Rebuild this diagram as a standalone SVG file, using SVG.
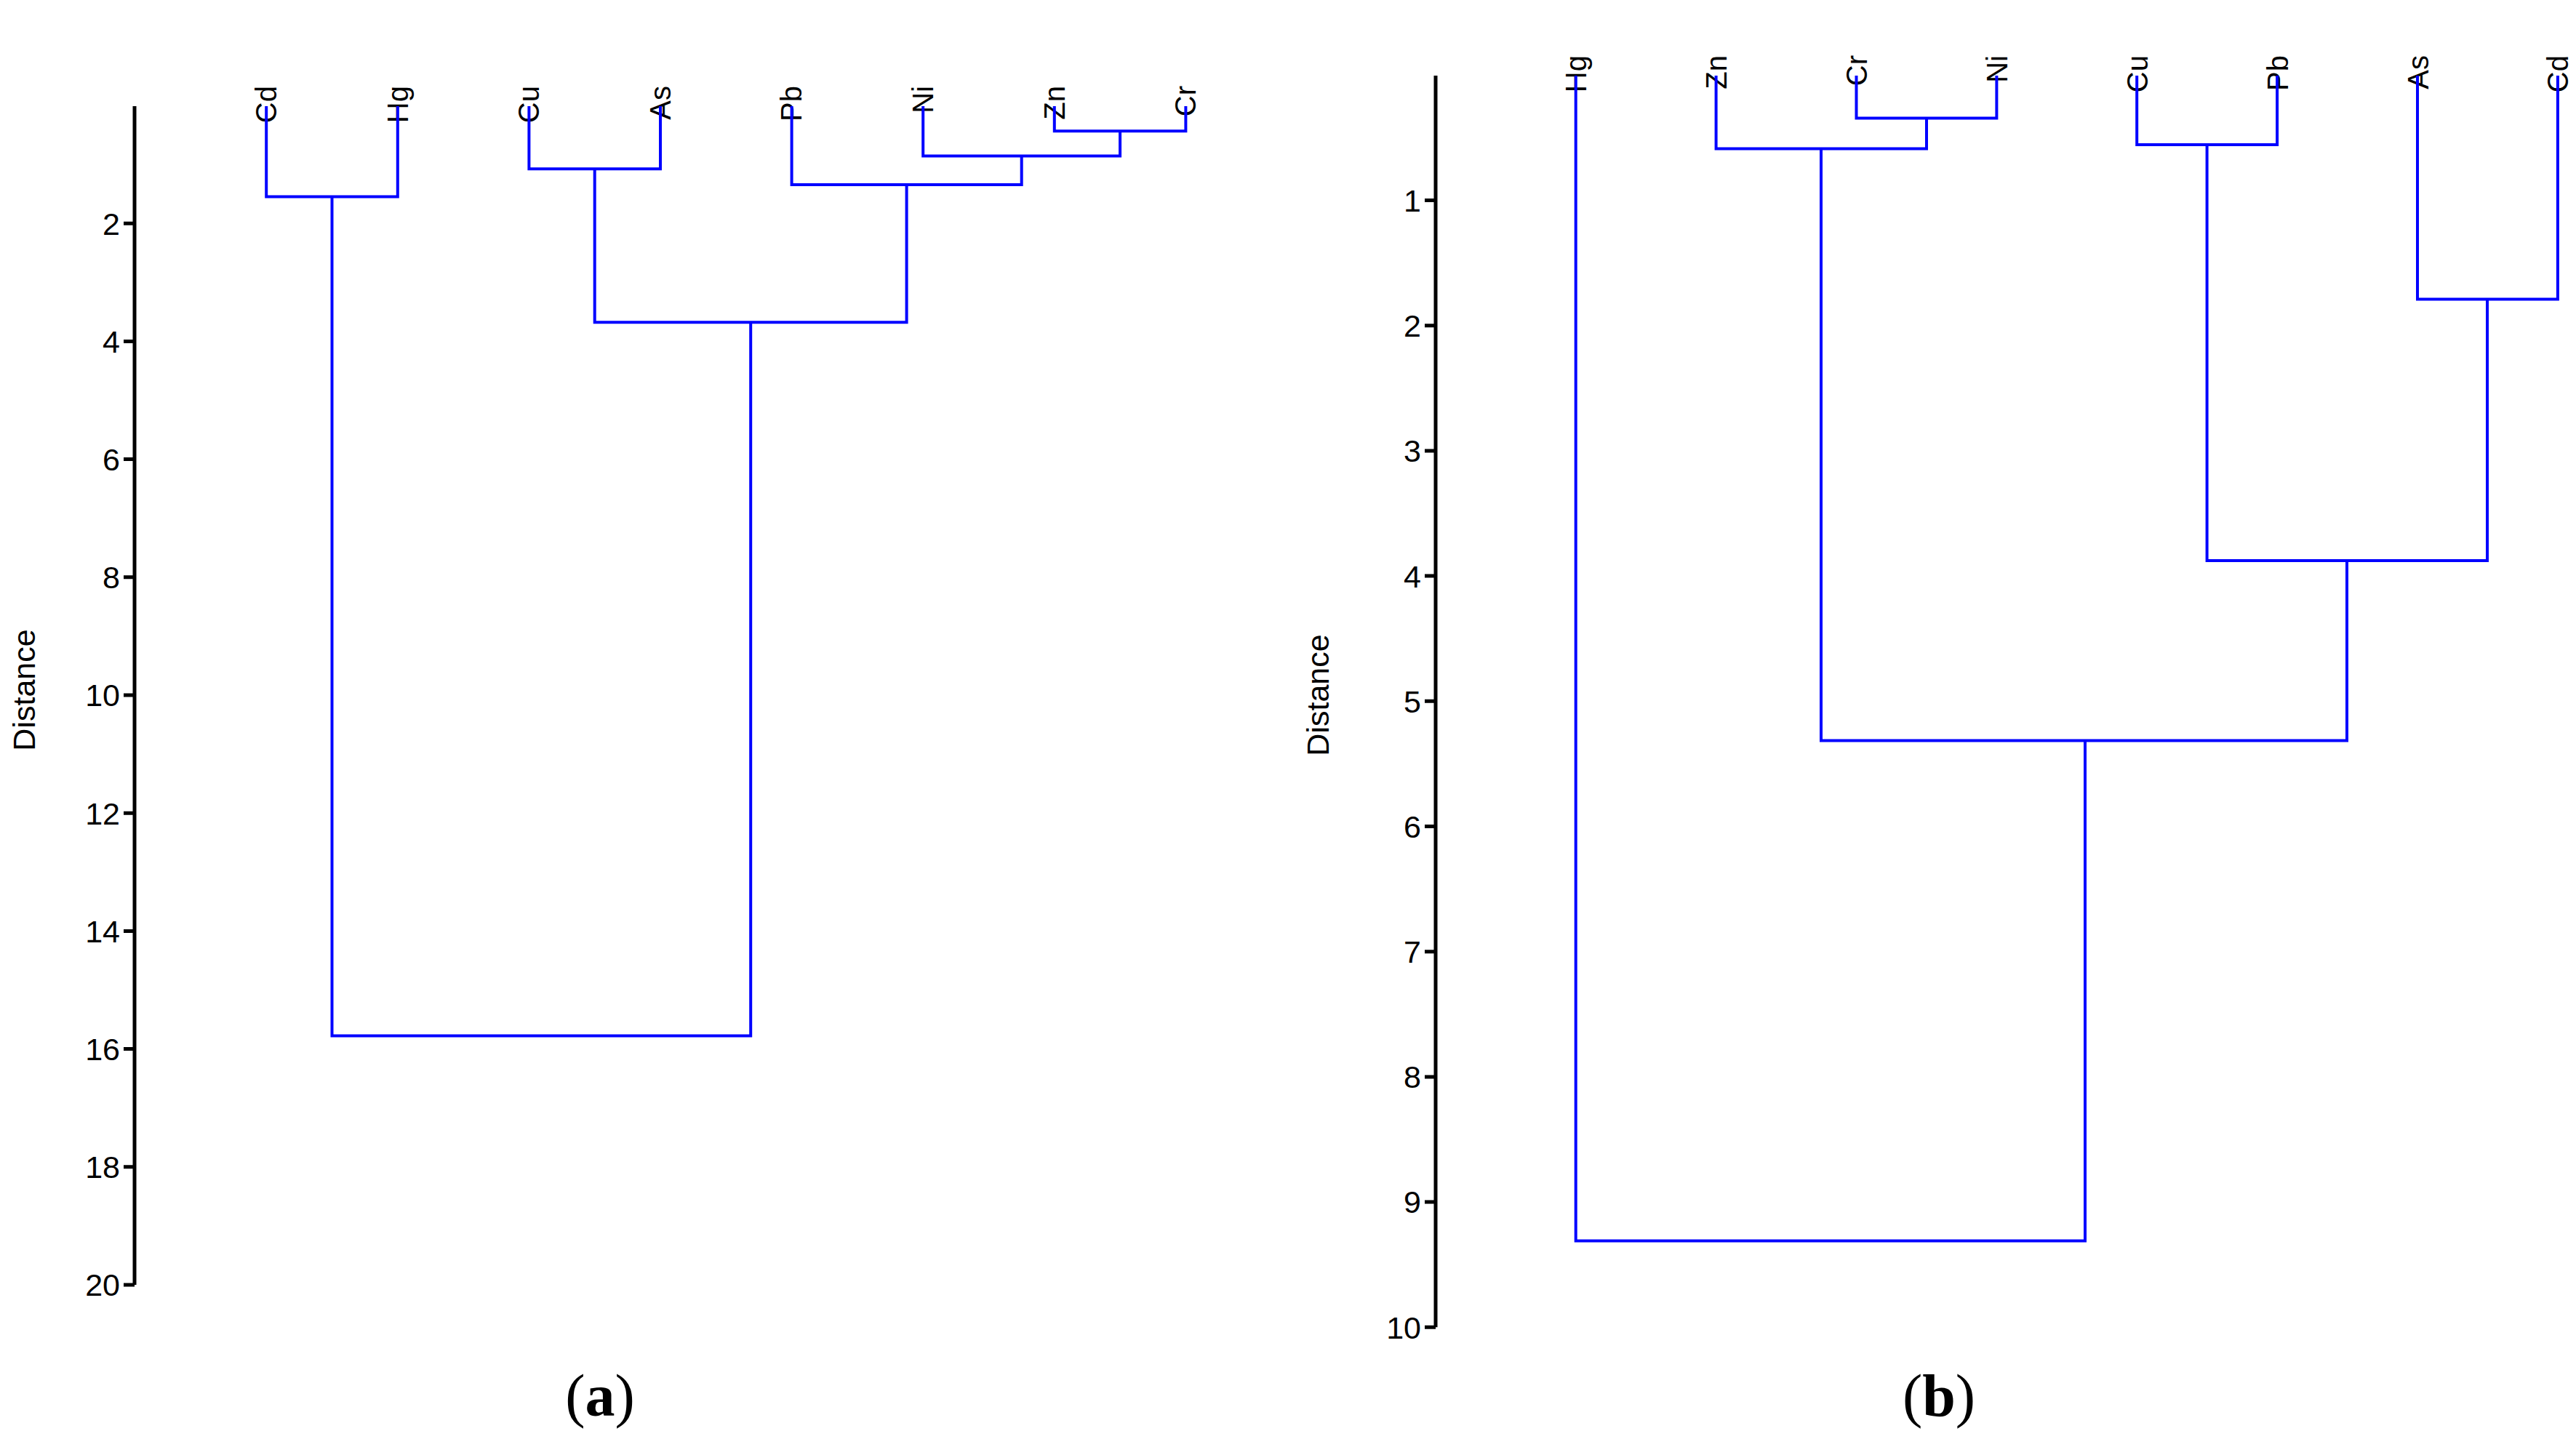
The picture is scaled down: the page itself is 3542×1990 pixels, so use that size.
<svg xmlns="http://www.w3.org/2000/svg" width="3542" height="1990" viewBox="0 0 3542 1990">
<style>
.d{fill:none;stroke:#0000ff;stroke-width:4}
.ax{fill:none;stroke:#000;stroke-width:5}
.t{font-family:"Liberation Sans",Arial,sans-serif;font-size:43px;fill:#000}
.lf{font-family:"Liberation Sans",Arial,sans-serif;font-size:40px;fill:#000}
.cap{font-family:"Liberation Serif","Times New Roman",serif;font-size:82px;fill:#000}
</style>
<rect width="3542" height="1990" fill="#fff"/>
<g id="axis-a">
<path class="ax" d="M185 146V1767M170 307.2H185M170 469.4H185M170 631.6H185M170 793.8H185M170 956H185M170 1118.2H185M170 1280.4H185M170 1442.6H185M170 1604.8H185M170 1767H185"/>
<g class="t" text-anchor="end">
<text x="165" y="323">2</text><text x="165" y="485">4</text><text x="165" y="647">6</text><text x="165" y="809">8</text><text x="165" y="971">10</text><text x="165" y="1134">12</text><text x="165" y="1296">14</text><text x="165" y="1458">16</text><text x="165" y="1620">18</text><text x="165" y="1782">20</text>
</g>
<text class="t" transform="translate(48 949) rotate(-90)" text-anchor="middle">Distance</text>
</g>
<g id="leaves-a" class="lf" text-anchor="end">
<text transform="translate(380 118) rotate(-90)">Cd</text>
<text transform="translate(561 118) rotate(-90)">Hg</text>
<text transform="translate(741 118) rotate(-90)">Cu</text>
<text transform="translate(922 118) rotate(-90)">As</text>
<text transform="translate(1102 118) rotate(-90)">Pb</text>
<text transform="translate(1283 118) rotate(-90)">Ni</text>
<text transform="translate(1464 118) rotate(-90)">Zn</text>
<text transform="translate(1644 118) rotate(-90)">Cr</text>
</g>
<g id="tree-a">
<path class="d" d="M1449.8 146V180.3H1630.4V146"/>
<path class="d" d="M1269.2 146V214.6H1540.1V180.3"/>
<path class="d" d="M1088.6 146V253.9H1404.7V214.6"/>
<path class="d" d="M727.4 146V232.3H908V146"/>
<path class="d" d="M366.2 146V270.4H546.8V146"/>
<path class="d" d="M817.7 232.3V443.2H1246.6V253.9"/>
<path class="d" d="M456.5 270.4V1424.5H1032.2V443.2"/>
</g>
<text class="cap" x="825" y="1947" text-anchor="middle">(<tspan font-weight="bold">a</tspan>)</text>
<g id="axis-b">
<path class="ax" d="M1974 104V1825.3M1959 275.5H1974M1959 447.7H1974M1959 619.9H1974M1959 792.1H1974M1959 964.3H1974M1959 1136.5H1974M1959 1308.7H1974M1959 1480.9H1974M1959 1653.1H1974M1959 1825.3H1974"/>
<g class="t" text-anchor="end">
<text x="1954" y="291">1</text><text x="1954" y="463">2</text><text x="1954" y="635">3</text><text x="1954" y="808">4</text><text x="1954" y="980">5</text><text x="1954" y="1152">6</text><text x="1954" y="1324">7</text><text x="1954" y="1496">8</text><text x="1954" y="1668">9</text><text x="1954" y="1841">10</text>
</g>
<text class="t" transform="translate(1827 956) rotate(-90)" text-anchor="middle">Distance</text>
</g>
<g id="leaves-b" class="lf" text-anchor="end">
<text transform="translate(2181 76) rotate(-90)">Hg</text>
<text transform="translate(2374 76) rotate(-90)">Zn</text>
<text transform="translate(2567 76) rotate(-90)">Cr</text>
<text transform="translate(2760 76) rotate(-90)">Ni</text>
<text transform="translate(2953 76) rotate(-90)">Cu</text>
<text transform="translate(3146 76) rotate(-90)">Pb</text>
<text transform="translate(3339 76) rotate(-90)">As</text>
<text transform="translate(3531 76) rotate(-90)">Cd</text>
</g>
<g id="tree-b">
<path class="d" d="M2552.5 104V162.6H2745.4V104"/>
<path class="d" d="M2359.6 104V204.6H2649V162.6"/>
<path class="d" d="M2938.2 104V199.1H3131.1V104"/>
<path class="d" d="M3324 104V411.4H3516.9V104"/>
<path class="d" d="M3034.6 199.1V770.9H3420V411.4"/>
<path class="d" d="M2504 204.6V1018.6H3227V770.9"/>
<path class="d" d="M2166.7 104V1706.6H2867V1018.6"/>
</g>
<text class="cap" x="2666" y="1947" text-anchor="middle">(<tspan font-weight="bold">b</tspan>)</text>
</svg>
